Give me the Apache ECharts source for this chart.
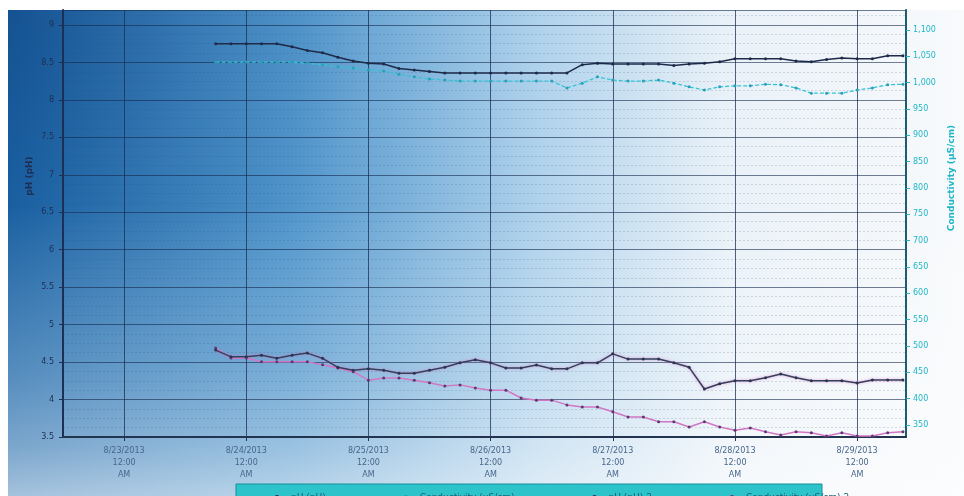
<!DOCTYPE html>
<html>
<head>
<meta charset="utf-8">
<script src="https://cdn.jsdelivr.net/npm/echarts@6/dist/echarts.min.js"></script>
<style>
html,body{margin:0;padding:0;background:#ffffff;}
#chart{width:964px;height:496px;}
</style>
</head>
<body>
<div id="chart"></div>
<script>
// ---- data (x = days after 8/23/2013 12:00 AM) ----
const xTickValues = [0, 1, 2, 3, 4, 5, 6];
const xTickLabels = [
  "8/23/2013\n12:00\nAM", "8/24/2013\n12:00\nAM", "8/25/2013\n12:00\nAM",
  "8/26/2013\n12:00\nAM", "8/27/2013\n12:00\nAM", "8/28/2013\n12:00\nAM",
  "8/29/2013\n12:00\nAM"
];
const rightTickValues = [350,400,450,500,550,600,650,700,750,800,850,900,950,1000,1050,1100];
const times = [0.75,0.875,1.0,1.125,1.25,1.375,1.5,1.625,1.75,1.875,2.0,2.125,2.25,2.375,2.5,2.625,
  2.75,2.875,3.0,3.125,3.25,3.375,3.5,3.625,3.75,3.875,4.0,4.125,4.25,4.375,4.5,4.625,4.75,4.875,
  5.0,5.125,5.25,5.375,5.5,5.625,5.75,5.875,6.0,6.125,6.25,6.375];
const phTop = [8.75,8.75,8.75,8.75,8.75,8.71,8.66,8.63,8.57,8.52,8.49,8.48,8.42,8.40,8.38,
  8.36,8.36,8.36,8.36,8.36,8.36,8.36,8.36,8.36,
  8.47,8.49,8.48,8.48,8.48,8.48,8.46,8.48,8.49,8.51,8.55,8.55,8.55,8.55,8.52,8.51,8.54,8.56,8.55,8.55,8.59,8.59];
const condTop = [1039,1039,1039,1039,1039,1039,1037,1034,1030,1028,1024,1022,1016,1011,1007,1005,
  1003,1003,1003,1003,1003,1003,1003,
  990,999,1011,1005,1003,1003,1005,999,992,986,992,994,994,997,996,990,980,980,980,986,990,996,997];
const phBottom = [4.66,4.57,4.57,4.59,4.55,4.59,4.62,4.55,4.43,4.39,4.41,4.39,4.35,4.35,4.39,4.43,
  4.49,4.53,4.49,4.42,4.42,4.46,4.41,4.41,4.49,4.49,4.61,4.54,4.54,4.54,4.49,4.43,4.14,4.21,4.25,
  4.25,4.29,4.34,4.29,4.25,4.25,4.25,4.22,4.26,4.26,4.26];
const condBottom = [496,477,477,470,470,470,470,464,458,451,435,439,439,435,430,424,426,420,416,416,
  401,397,397,388,384,384,375,365,365,356,356,346,356,346,340,344,337,331,337,335,329,335,329,329,335,337];
const seriesNames = ["pH (pH)", "Conductivity (µS/cm)", "pH (pH) 2", "Conductivity (µS/cm) 2"];

function pairs(ys){ return times.map((t,i)=>[t, ys[i]]); }

const chart = echarts.init(document.getElementById('chart'), null, {renderer:'canvas'});
const option = {
  animation:false,
  backgroundColor:'#ffffff',
  graphic:[
    {type:'rect', z:-20, silent:true, shape:{x:8,y:10,width:956,height:486},
     style:{fill:{type:'linear',x:0,y:0,x2:1,y2:0,colorStops:[
       {offset:0,color:'#1c66a8'},{offset:0.3,color:'#5196cc'},{offset:0.55,color:'#aed1eb'},
       {offset:0.75,color:'#e9f1f8'},{offset:1,color:'#f8fafc'}]}}},
    {type:'rect', z:-19, silent:true, shape:{x:8,y:10,width:956,height:486},
     style:{fill:{type:'radial',x:0,y:0,r:0.75,colorStops:[
       {offset:0,color:'rgba(0,30,90,0.28)'},{offset:0.6,color:'rgba(0,30,90,0.08)'},
       {offset:1,color:'rgba(0,30,90,0)'}]}}},
    {type:'rect', z:-18, silent:true, shape:{x:8,y:10,width:956,height:486},
     style:{fill:{type:'linear',x:0,y:0,x2:0,y2:1,colorStops:[
       {offset:0,color:'rgba(255,255,255,0)'},{offset:0.4,color:'rgba(255,255,255,0)'},
       {offset:0.75,color:'rgba(255,255,255,0.25)'},{offset:0.9,color:'rgba(255,255,255,0.42)'},
       {offset:1,color:'rgba(255,255,255,0.6)'}]}}},
    {type:'rect', z:1, silent:true, shape:{x:236,y:484,width:586,height:20},
     style:{fill:'#2cc3cb', stroke:'#168f9b', lineWidth:1}},
    {type:'text', z:10, x:30, y:176, rotation:Math.PI/2,
     style:{text:'pH (pH)', fill:'#1d2f55', font:'bold 9px "DejaVu Sans"', align:'center', verticalAlign:'middle'}},
    {type:'text', z:10, x:952, y:178, rotation:Math.PI/2,
     style:{text:'Conductivity (µS/cm)', fill:'#1fb7c6', font:'bold 9px "DejaVu Sans"', align:'center', verticalAlign:'middle'}}
  ],
  legend:{
    show:true, z:10, left:262, top:488, itemGap:70, itemWidth:18, itemHeight:6,
    textStyle:{fontSize:9, color:'#1a5f70', fontFamily:'DejaVu Sans'},
    data:seriesNames
  },
  grid:{left:63, right:58, top:10, bottom:59, containLabel:false, outerBoundsMode:'none'},
  xAxis:[
    {type:'value', min:-0.5, max:6.4,
     axisLine:{show:true, onZero:false, lineStyle:{color:'#22344f', width:2}},
     axisTick:{show:true, customValues:xTickValues, length:4, lineStyle:{color:'#22344f'}},
     axisLabel:{customValues:xTickValues, margin:8, color:'#48668a', fontSize:8, lineHeight:12,
       fontFamily:'DejaVu Sans', formatter:(v)=>xTickLabels[Math.round(v)]},
     splitLine:{show:true, lineStyle:{color:'rgba(25,45,80,0.75)', width:1}}
    },
    {type:'value', min:-0.5, max:6.4, interval:0.125, show:false, position:'bottom',
     splitLine:{show:true, lineStyle:{color:'rgba(40,70,110,0.16)', width:1, type:[1,3]}}}
  ],
  yAxis:[
    {type:'value', min:3.5, max:9.2, interval:0.5, position:'left',
     axisLine:{show:true, onZero:false, lineStyle:{color:'#1d2f55', width:2}},
     axisTick:{show:true, length:4, lineStyle:{color:'#1d2f55'}},
     axisLabel:{showMaxLabel:false, margin:9, color:'#1d2f55', fontSize:8, fontFamily:'DejaVu Sans',
       formatter:(v)=>String(v)},
     splitLine:{show:true, lineStyle:{color:'rgba(20,40,75,0.6)', width:1}},
     minorTick:{show:false, splitNumber:4},
     minorSplitLine:{show:true, lineStyle:{color:'rgba(40,70,110,0.18)', width:1, type:[2,2]}}
    },
    {type:'value', min:327, max:1138, position:'right',
     axisLine:{show:true, onZero:false, lineStyle:{color:'#1e5d70', width:2}},
     axisTick:{show:true, customValues:rightTickValues, length:4, lineStyle:{color:'#1fb7c6'}},
     axisLabel:{customValues:rightTickValues, margin:7, color:'#1fb7c6', fontSize:8, fontFamily:'DejaVu Sans',
       formatter:(v)=>v.toLocaleString('en-US')},
     splitLine:{show:false}
    }
  ],
  series:[
    {name:seriesNames[0], type:'line', xAxisIndex:0, yAxisIndex:0, data:pairs(phTop),
     symbol:'circle', symbolSize:3, lineStyle:{color:'#1d2a48', width:1.5}, itemStyle:{color:'#1d2a48'}, z:5},
    {name:seriesNames[1], type:'line', xAxisIndex:0, yAxisIndex:1, data:pairs(condTop),
     symbol:'circle', symbolSize:3, lineStyle:{color:'#37c3d3', width:1.3, type:[4,2]}, itemStyle:{color:'#2a9fb8'}, z:4},
    {name:seriesNames[2], type:'line', xAxisIndex:0, yAxisIndex:0, data:pairs(phBottom),
     symbol:'circle', symbolSize:3,
     lineStyle:{color:'#35405c', width:1.5, shadowColor:'rgba(220,110,200,0.7)', shadowBlur:3},
     itemStyle:{color:'#2a3550'}, z:5},
    {name:seriesNames[3], type:'line', xAxisIndex:0, yAxisIndex:1, data:pairs(condBottom),
     symbol:'circle', symbolSize:3, lineStyle:{color:'#d276c4', width:1.5}, itemStyle:{color:'#5a3a70'}, z:4}
  ]
};
chart.setOption(option);
</script>
</body>
</html>
